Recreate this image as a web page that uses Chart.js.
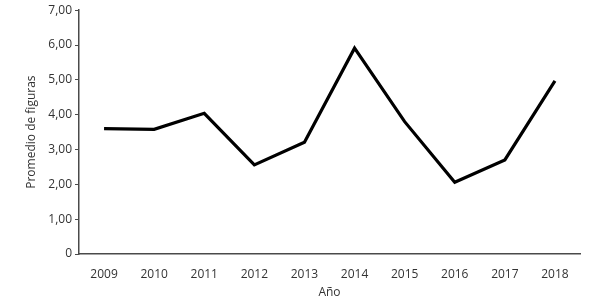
<!DOCTYPE html>
<html>
<head>
<meta charset="utf-8">
<script src="https://cdn.jsdelivr.net/npm/chart.js@4"></script>
<style>
  html, body { margin: 0; padding: 0; background: #fff; }
  #wrap { width: 614px; height: 300px; }
</style>
</head>
<body>
<div id="wrap"><canvas id="lineChart" width="614" height="300"></canvas></div>
<script>
// data
const years = ['2009', '2010', '2011', '2012', '2013', '2014', '2015', '2016', '2017', '2018'];
const promedio = [3.60, 3.58, 4.04, 2.56, 3.21, 5.91, 3.80, 2.06, 2.70, 4.97];
const yTickLabels = ['0', '1,00', '2,00', '3,00', '4,00', '5,00', '6,00', '7,00'];

const axisColor = '#4a4a4a';
const textColor = '#333';
const font = { family: '"Open Sans", sans-serif', size: 12 };

new Chart(document.getElementById('lineChart'), {
  type: 'line',
  data: {
    labels: years,
    datasets: [{
      data: promedio,
      borderColor: '#000',
      borderWidth: 3.2,
      pointRadius: 0,
      tension: 0,
      fill: false
    }]
  },
  options: {
    responsive: false,
    animation: false,
    layout: { padding: { left: 24, right: 34, top: 10, bottom: 0 } },
    plugins: { legend: { display: false }, tooltip: { enabled: false } },
    scales: {
      x: {
        offset: true,
        grid: { display: false },
        border: { display: true, color: axisColor, width: 1.5 },
        ticks: { color: textColor, font: font, padding: 5, maxRotation: 0 },
        title: { display: true, text: 'Año', color: textColor, font: font, padding: { top: 3, bottom: 0 } },
        afterFit: s => { s.height = 46; }
      },
      y: {
        min: 0,
        max: 7,
        grid: { display: true, drawOnChartArea: false, drawTicks: true, tickLength: 4, color: axisColor, lineWidth: 1 },
        border: { display: true, color: axisColor, width: 1.5 },
        ticks: {
          stepSize: 1,
          color: textColor,
          font: font,
          padding: 3,
          callback: (v, i) => yTickLabels[i]
        },
        title: { display: true, text: 'Promedio de figuras', color: textColor, font: font, padding: { top: 0, bottom: 8 } },
        afterFit: s => { s.width = 55; }
      }
    }
  }
});
</script>
</body>
</html>
